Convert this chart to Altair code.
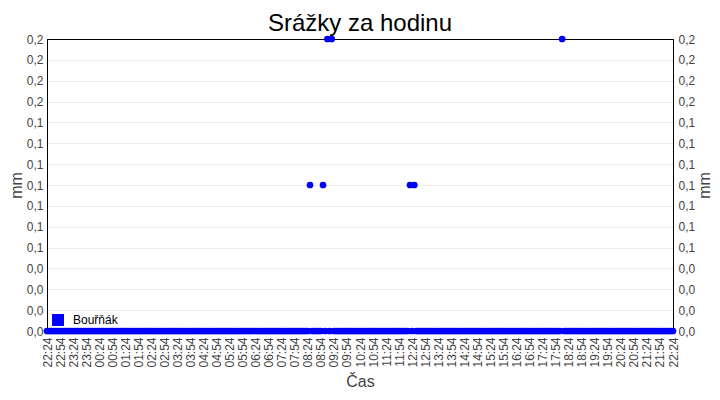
import altair as alt
import pandas as pd

# ---- data ----
series_name = "Bouřňák"
start_time = "2024-01-01 22:24"
end_time = "2024-01-02 22:24"
sample_step = "5min"
# non-zero hourly rainfall readings (mm)
rain_times = ["2024-01-02 08:29", "2024-01-02 08:59", "2024-01-02 09:09",
              "2024-01-02 09:19", "2024-01-02 12:19", "2024-01-02 12:29",
              "2024-01-02 18:09"]
rain_values = [0.1, 0.1, 0.2, 0.2, 0.1, 0.1, 0.2]
y_max = 0.2
y_tick_count = 15
x_tick_step = "30min"

# ---- build table ----
times = pd.date_range(start_time, end_time, freq=sample_step, tz="UTC")
rain = {pd.Timestamp(t, tz="UTC"): v for t, v in zip(rain_times, rain_values)}
df = pd.DataFrame({
    "t": [t.strftime("%Y-%m-%dT%H:%M:%SZ") for t in times],
    "mm": [rain.get(t, 0.0) for t in times],
    "series": series_name,
})

def ms(ts):
    return int(ts.value // 10**6)

x_ticks = [ms(t) for t in pd.date_range(start_time, end_time, freq=x_tick_step, tz="UTC")]
y_ticks = [round(y_max * i / (y_tick_count - 1), 6) for i in range(y_tick_count)]

FONT = "Liberation Sans"
label_expr = "replace(format(datum.value, '.1f'), '.', ',')"

x_enc = alt.X(
    "t:T",
    scale=alt.Scale(type="utc", domain=[ms(pd.Timestamp(start_time, tz="UTC")),
                                        ms(pd.Timestamp(end_time, tz="UTC"))], nice=False),
    axis=alt.Axis(values=x_ticks, labelExpr="utcFormat(datum.value, '%H:%M')", labelAngle=-90,
                  labelAlign="right", labelBaseline="middle",
                  title="Čas", grid=False, labelPadding=6, titlePadding=6,
                  labelOverlap=False, labelFlush=False),
)
y_scale = alt.Scale(domain=[0, y_max], nice=False, zero=True)

grid_color = {"condition": {"test": f"datum.value > {y_max * 0.999}", "value": "black"},
              "value": "#ebebeb"}

points = alt.Chart(df).mark_circle(size=45, opacity=1).encode(
    x=x_enc,
    y=alt.Y("mm:Q", scale=y_scale,
            axis=alt.Axis(values=y_ticks, labelExpr=label_expr, orient="left",
                          title="mm", grid=True, gridColor=grid_color,
                          labelPadding=4, titlePadding=2)),
    color=alt.Color("series:N",
                    scale=alt.Scale(domain=[series_name], range=["#0000ff"]),
                    legend=alt.Legend(title=None, orient="bottom-left", symbolType="square",
                                      symbolSize=144, symbolOpacity=1, labelFontSize=12,
                                      labelColor="black", labelFont=FONT, padding=0,
                                      offset=5, labelOffset=9, symbolStrokeWidth=0)),
)

right = alt.Chart(df).mark_circle(opacity=0).encode(
    x=x_enc,
    y=alt.Y("mm:Q", scale=y_scale,
            axis=alt.Axis(values=y_ticks, labelExpr=label_expr, orient="right",
                          title="mm", titleAngle=270, titleBaseline="top", grid=False,
                          labelPadding=5, titlePadding=2)),
)

chart = alt.layer(points, right).resolve_scale(y="independent").properties(
    width=626, height=292,
    autosize="none",
    padding={"left": 39, "top": 31, "right": 39, "bottom": 61},
    title=alt.TitleParams("Srážky za hodinu", fontSize=24, font=FONT, fontWeight="normal",
                          color="black", offset=-3),
).configure_view(
    stroke="black", strokeWidth=1
).configure_axis(
    domainColor="black", ticks=False, gridColor="#ebebeb",
    labelFont=FONT, labelFontSize=12, labelColor="#444444",
    titleFont=FONT, titleFontSize=16, titleFontWeight="normal", titleColor="#444444",
)

chart.save("out.html", embed_options={"renderer": "svg", "actions": False})
